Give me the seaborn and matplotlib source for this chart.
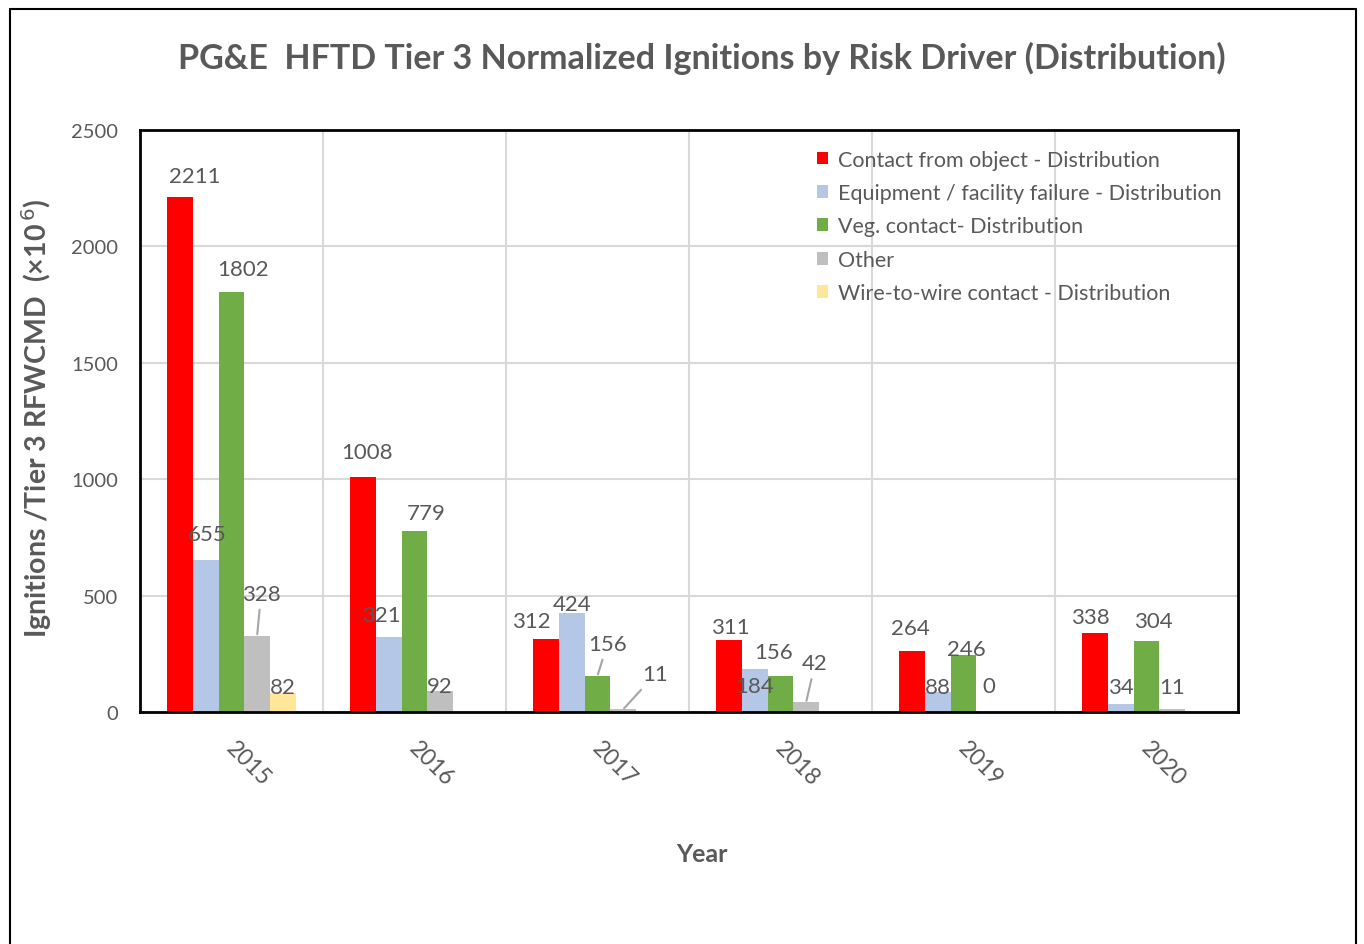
import numpy as np
import pandas as pd
import matplotlib
matplotlib.use("Agg")
import matplotlib.pyplot as plt
import matplotlib.transforms as mtrans
import seaborn as sns
from matplotlib.ticker import FixedLocator

years = ["2015", "2016", "2017", "2018", "2019", "2020"]
drivers = ["Contact from object - Distribution",
           "Equipment / facility failure - Distribution",
           "Veg. contact- Distribution",
           "Other",
           "Wire-to-wire contact - Distribution"]
contact = [2211, 1008, 312, 311, 264, 338]
equipment = [655, 321, 424, 184, 88, 34]
veg = [1802, 779, 156, 156, 246, 304]
other = [328, 92, 11, 42, 0, 11]
wire = [82, np.nan, np.nan, np.nan, np.nan, np.nan]
colors = ["#FF0000", "#B4C7E7", "#70AD47", "#BFBFBF", "#FFE699"]
yticks = [0, 500, 1000, 1500, 2000, 2500]

series = [contact, equipment, veg, other, wire]
rows = []
for d, vals in zip(drivers, series):
    for y, v in zip(years, vals):
        rows.append({"Year": y, "Driver": d, "Value": v})
df = pd.DataFrame(rows)

sns.set_theme(style="white")
plt.rcParams["font.family"] = ["Lato", "DejaVu Sans"]
txt = "#595959"

fig = plt.figure(figsize=(13.64, 9.45), dpi=100)
ax = fig.add_axes([140/1364, 1-713/945, 1098/1364, 582/945])

sns.barplot(data=df, x="Year", y="Value", hue="Driver", hue_order=drivers,
            order=years, palette=colors, saturation=1, width=0.7, ax=ax,
            linewidth=0, legend=True)

ax.set_ylim(0, 2500)
ax.set_yticks(yticks)
ax.set_yticklabels([str(t) for t in yticks], fontsize=14.5, color=txt)
ax.tick_params(axis="y", length=0, pad=16)
ax.set_xlim(-0.5, len(years)-0.5)
ax.tick_params(axis="x", length=0, pad=18)
shift = mtrans.ScaledTranslation(-9/100, 0, fig.dpi_scale_trans)
for lab in ax.get_xticklabels():
    lab.set_rotation(-45)
    lab.set_ha("left")
    lab.set_va("top")
    lab.set_fontsize(16.5)
    lab.set_color(txt)
    lab.set_transform(lab.get_transform() + shift)
ax.xaxis.set_minor_locator(FixedLocator(np.arange(0.5, len(years)-0.5, 1)))
ax.grid(which="major", axis="y", color="#d9d9d9", lw=1.5)
ax.grid(which="minor", axis="x", color="#d9d9d9", lw=1.5)
ax.tick_params(which="minor", length=0)
ax.set_axisbelow(True)
for s in ax.spines.values():
    s.set_visible(True)
    s.set_color("black")
    s.set_linewidth(2)

ax.set_xlabel("Year", fontsize=18, fontweight="bold", color=txt)
ax.xaxis.set_label_coords((702-140)/1098, -(843-713)/582)
ax.set_ylabel("Ignitions /Tier 3 RFWCMD  (×10$^{\\,6}$)", fontsize=20.5,
              fontweight="bold", color=txt)
ax.yaxis.set_label_coords(-(140-54)/1098, (713-418)/582)

fig.text(702/1364, 1-58/945, "PG&E  HFTD Tier 3 Normalized Ignitions by Risk Driver (Distribution)",
         ha="center", va="center", fontsize=24.5, fontweight="bold", color=txt)

# legend
handles, labels = ax.get_legend_handles_labels()
leg = ax.legend(handles, labels, loc="upper left",
                bbox_to_anchor=((808-140)/1098, 1-(142-131)/582),
                frameon=False, fontsize=15.5, handlelength=0.55, handleheight=0.55,
                handletextpad=0.45, labelspacing=0.62, borderaxespad=0)
for t in leg.get_texts():
    t.set_color(txt)

# data labels: offsets in pixels (dx, dy up)
offsets = {
    (0, 0): (14, 21), (0, 1): (1, 26), (0, 2): (12, 23), (0, 3): (4, 42), (0, 4): (0, 6),
    (1, 0): (4, 25), (1, 1): (-8, 22), (1, 2): (12, 18), (1, 3): (0, 5),
    (2, 0): (-15, 18), (2, 1): (0, 9), (2, 2): (10, 32), (2, 3): (32, 35),
    (3, 0): (1, 13), (3, 1): (0, -17), (3, 2): (-7, 24), (3, 3): (9, 39),
    (4, 0): (-2, 23), (4, 1): (0, 5), (4, 2): (3, 6), (4, 3): (0, 26),
    (5, 0): (-5, 16), (5, 1): (0, 17), (5, 2): (7, 20), (5, 3): (0, 22),
}
leaders = {(0, 3), (2, 2), (2, 3), (3, 3)}
n = len(drivers)
bw = 0.7 / n
for j, vals in enumerate(series):
    for i, v in enumerate(vals):
        if np.isnan(v):
            continue
        x = i + (j - (n-1)/2) * bw
        dx, dy = offsets.get((i, j), (0, 6))
        kw = {}
        if (i, j) in leaders:
            kw["arrowprops"] = dict(arrowstyle="-", color="#a6a6a6", lw=1.5,
                                    shrinkA=2, shrinkB=1)
        ax.annotate(f"{int(v)}", xy=(x, v), xytext=(dx, dy),
                    textcoords="offset pixels", ha="center", va="center",
                    fontsize=16, color=txt, **kw)

# outer frame
fig.add_artist(plt.Line2D([10/1364, 10/1364], [0, 1-10/945], color="black", lw=1.5,
                          transform=fig.transFigure))
fig.add_artist(plt.Line2D([1356/1364, 1356/1364], [0, 1-10/945], color="black", lw=1.5,
                          transform=fig.transFigure))
fig.add_artist(plt.Line2D([10/1364, 1356/1364], [1-10/945, 1-10/945], color="black", lw=1.5,
                          transform=fig.transFigure))

fig.savefig("out.png", dpi=100)
